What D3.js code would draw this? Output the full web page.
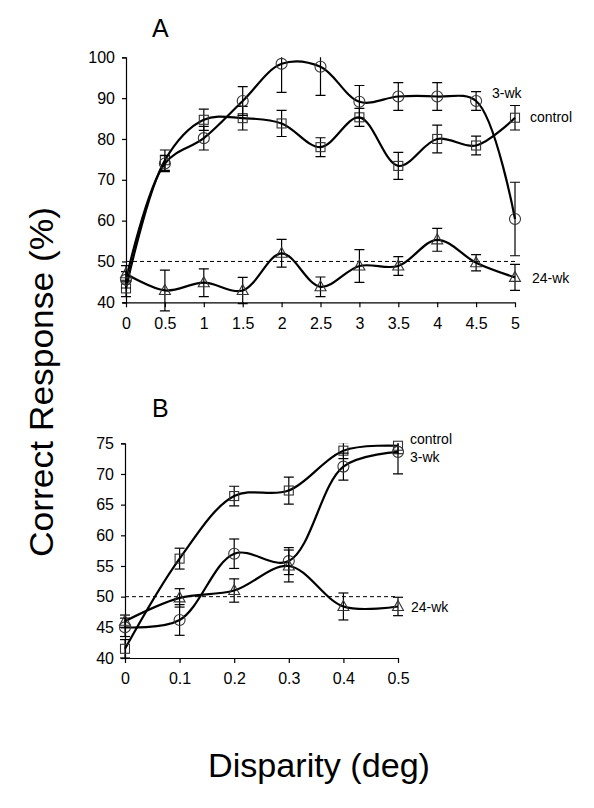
<!DOCTYPE html>
<html><head><meta charset="utf-8">
<script src="https://cdn.jsdelivr.net/npm/d3@7"></script>
<style>body{margin:0;background:#fff;} svg{display:block;} text{font-family:"Liberation Sans",Arial,sans-serif;fill:#000;}</style>
</head><body>
<svg id="c" width="594" height="808"></svg>
<script>
// Panel A data
const xA = [0,0.5,1,1.5,2,2.5,3,3.5,4,4.5,5];
const aControl = [43.4,74.8,84.7,85.1,83.8,78.0,85.3,73.4,80.0,78.4,85.2];
const aControlErr = [2.0,2.5,2.6,2.9,3.2,2.3,2.2,3.3,3.4,2.3,3.0];
const a3wk = [45.5,74.0,80.2,89.3,98.4,97.7,89.1,90.4,90.4,89.3,60.4];
const a3wkErr = [2.0,2.0,2.9,3.5,7.0,7.0,4.0,3.4,3.4,2.3,9.0];
const a24wk = [47.0,42.9,44.8,42.9,52.0,43.8,48.9,48.9,55.3,49.7,46.1];
const a24wkErr = [2.0,5.0,3.4,3.2,3.4,2.4,4.0,2.3,2.8,2.0,3.2];
const aTicksX = [0,0.5,1,1.5,2,2.5,3,3.5,4,4.5,5];
const aTicksY = [40,50,60,70,80,90,100];
// Panel B data
const xB = [0,0.1,0.2,0.3,0.4,0.5];
const bControl = [41.5,56.2,66.4,67.3,73.8,74.6];
const bControlErr = [1.5,1.7,1.6,2.2,1.3,1.3];
const b3wk = [45.0,46.2,57.0,55.8,71.2,73.6];
const b3wkErr = [1.5,2.5,2.4,2.2,2.2,3.6];
const b24wk = [46.0,49.8,51.0,55.0,48.4,48.4];
const b24wkErr = [1.0,1.5,1.9,2.6,2.2,1.5];
const bTicksX = [0,0.1,0.2,0.3,0.4,0.5];
const bTicksY = [40,45,50,55,60,65,70,75];

const svg = d3.select('#c');

function panel(cfg){
  const g = svg.append('g');
  const x = d3.scaleLinear().domain(cfg.xd).range(cfg.xr);
  const y = d3.scaleLinear().domain(cfg.yd).range(cfg.yr);
  const clipId = 'clip'+cfg.id;
  svg.append('clipPath').attr('id',clipId).append('rect')
    .attr('x',0).attr('y',cfg.yr[1]).attr('width',594).attr('height',cfg.yr[0]-cfg.yr[1]+20);
  const ax = g.append('g').attr('transform',`translate(0,${cfg.yr[0]})`)
    .call(d3.axisBottom(x).tickValues(cfg.tx).tickSize(5).tickPadding(10).tickFormat(d=>String(d)));
  const ay = g.append('g').attr('transform',`translate(${cfg.xr[0]},0)`)
    .call(d3.axisLeft(y).tickValues(cfg.ty).tickSize(4).tickPadding(7).tickFormat(d=>String(d)));
  [ax,ay].forEach(a=>{
    a.select('.domain').attr('stroke','#000').attr('stroke-width',1.2);
    a.selectAll('.tick line').attr('stroke','#000').attr('stroke-width',1.2);
    a.selectAll('.tick text').style('font-size','16px').attr('fill','#000');
  });
  ax.select('.domain').attr('d',`M${cfg.xr[0]-3},0.5H${cfg.xr[1]}`);
  g.append('line').attr('x1',cfg.xr[0]).attr('x2',cfg.xr[1])
    .attr('y1',y(50)).attr('y2',y(50)).attr('stroke','#000').attr('stroke-width',1)
    .attr('stroke-dasharray','4,3');
  const line = d3.line().x(d=>x(d[0])).y(d=>y(d[1])).curve(d3.curveCatmullRom.alpha(0.5));
  cfg.series.forEach(s=>{
    const pts = cfg.xs.map((v,i)=>[v,s.v[i],s.e[i]]);
    const eb = g.append('g').attr('clip-path',`url(#${clipId})`);
    pts.forEach(p=>{
      const cx = x(p[0]), t=y(p[1]+p[2]), b=y(p[1]-p[2]);
      eb.append('line').attr('x1',cx).attr('x2',cx).attr('y1',t).attr('y2',b).attr('stroke','#000').attr('stroke-width',1.2);
      [t,b].forEach(yy=>eb.append('line').attr('x1',cx-5).attr('x2',cx+5).attr('y1',yy).attr('y2',yy).attr('stroke','#000').attr('stroke-width',1.2));
    });
    g.append('path').datum(pts).attr('d',line).attr('fill','none').attr('stroke','#000').attr('stroke-width',2.2);
    pts.forEach(p=>{
      const cx=x(p[0]), cy=y(p[1]);
      let m;
      if(s.shape==='square') m=g.append('rect').attr('x',cx-4.5).attr('y',cy-4.5).attr('width',9).attr('height',9);
      else if(s.shape==='circle') m=g.append('circle').attr('cx',cx).attr('cy',cy).attr('r',5.5);
      else m=g.append('path').attr('d',`M${cx},${cy-6}L${cx+5.5},${cy+4}L${cx-5.5},${cy+4}Z`);
      m.attr('fill','none').attr('stroke','#333').attr('stroke-width',1.1);
    });
  });
  cfg.labels.forEach(l=>g.append('text').attr('x',l[1]).attr('y',l[2]).text(l[0]).style('font-size','14px'));
  g.append('text').attr('x',cfg.title[1]).attr('y',cfg.title[2]).text(cfg.title[0]).style('font-size','25px');
}

panel({id:'A', xd:[0,5], xr:[126,515], yd:[40,100], yr:[302.3,57.3], xs:xA, tx:aTicksX, ty:aTicksY,
  series:[{v:aControl,e:aControlErr,shape:'square'},{v:a3wk,e:a3wkErr,shape:'circle'},{v:a24wk,e:a24wkErr,shape:'triangle'}],
  labels:[['3-wk',492,98],['control',530,122],['24-wk',532,283]], title:['A',152,37]});
panel({id:'B', xd:[0,0.5], xr:[125,398], yd:[40,75], yr:[658,443.3], xs:xB, tx:bTicksX, ty:bTicksY,
  series:[{v:bControl,e:bControlErr,shape:'square'},{v:b3wk,e:b3wkErr,shape:'circle'},{v:b24wk,e:b24wkErr,shape:'triangle'}],
  labels:[['control',410,444],['3-wk',410,462],['24-wk',411,612]], title:['B',152,417]});

svg.append('text').attr('transform','translate(53,382) rotate(-90)').attr('text-anchor','middle')
  .style('font-size','33px').attr('textLength',350).attr('lengthAdjust','spacingAndGlyphs').text('Correct Response (%)');
svg.append('text').attr('x',319).attr('y',777).attr('text-anchor','middle')
  .style('font-size','33px').attr('textLength',222).attr('lengthAdjust','spacingAndGlyphs').text('Disparity (deg)');
</script>
</body></html>
